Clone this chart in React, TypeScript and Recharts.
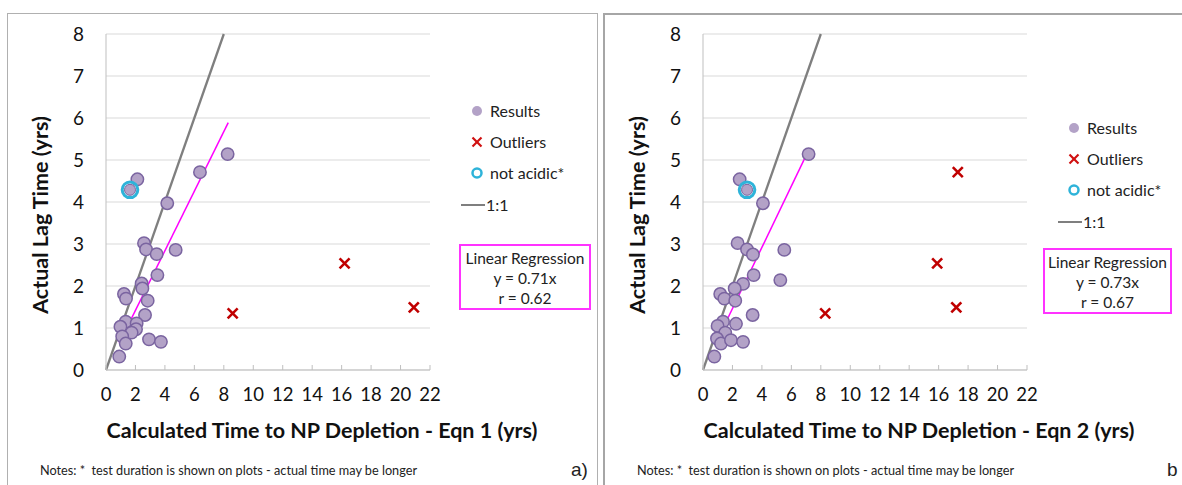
import React from "react";
import {
	CartesianGrid,
	Label,
	ReferenceLine,
	Scatter,
	ScatterChart,
	XAxis,
	YAxis,
} from "recharts";

const xTicks = [0, 2, 4, 6, 8, 10, 12, 14, 16, 18, 20, 22];
const yTicks = [0, 1, 2, 3, 4, 5, 6, 7, 8];

// panel a) - Eqn 1
const resultsA = [
	{ x: 8.26, y: 5.14 },
	{ x: 6.38, y: 4.71 },
	{ x: 2.13, y: 4.54 },
	{ x: 4.16, y: 3.97 },
	{ x: 2.58, y: 3.02 },
	{ x: 2.72, y: 2.87 },
	{ x: 3.44, y: 2.76 },
	{ x: 4.73, y: 2.86 },
	{ x: 3.49, y: 2.26 },
	{ x: 2.42, y: 2.06 },
	{ x: 2.47, y: 1.94 },
	{ x: 1.22, y: 1.81 },
	{ x: 1.36, y: 1.7 },
	{ x: 2.83, y: 1.65 },
	{ x: 2.65, y: 1.31 },
	{ x: 1.34, y: 1.15 },
	{ x: 2.08, y: 1.11 },
	{ x: 0.98, y: 1.03 },
	{ x: 2.04, y: 0.97 },
	{ x: 1.74, y: 0.89 },
	{ x: 1.1, y: 0.8 },
	{ x: 1.34, y: 0.63 },
	{ x: 2.92, y: 0.73 },
	{ x: 3.73, y: 0.67 },
	{ x: 0.9, y: 0.32 },
];
const outliersA = [
	{ x: 8.6, y: 1.35 },
	{ x: 16.2, y: 2.54 },
	{ x: 20.9, y: 1.49 },
];
const notAcidicA = [{ x: 1.63, y: 4.29 }];
const regressionA = [
	{ x: 0.9, y: 0.64 },
	{ x: 8.3, y: 5.89 },
];

// panel b) - Eqn 2
const resultsB = [
	{ x: 7.17, y: 5.14 },
	{ x: 2.49, y: 4.54 },
	{ x: 4.07, y: 3.97 },
	{ x: 2.35, y: 3.02 },
	{ x: 2.99, y: 2.87 },
	{ x: 3.39, y: 2.75 },
	{ x: 5.52, y: 2.86 },
	{ x: 3.44, y: 2.26 },
	{ x: 5.25, y: 2.14 },
	{ x: 2.72, y: 2.05 },
	{ x: 2.15, y: 1.94 },
	{ x: 1.17, y: 1.81 },
	{ x: 1.45, y: 1.7 },
	{ x: 2.19, y: 1.65 },
	{ x: 3.37, y: 1.31 },
	{ x: 1.36, y: 1.15 },
	{ x: 2.24, y: 1.1 },
	{ x: 0.99, y: 1.05 },
	{ x: 1.51, y: 0.89 },
	{ x: 0.95, y: 0.75 },
	{ x: 1.22, y: 0.63 },
	{ x: 1.9, y: 0.71 },
	{ x: 2.72, y: 0.67 },
	{ x: 0.77, y: 0.32 },
];
const outliersB = [
	{ x: 8.3, y: 1.35 },
	{ x: 15.9, y: 2.54 },
	{ x: 17.2, y: 1.49 },
	{ x: 17.3, y: 4.71 },
];
const notAcidicB = [{ x: 2.99, y: 4.29 }];
const regressionB = [
	{ x: 0.9, y: 0.66 },
	{ x: 7.1, y: 5.18 },
];

const oneToOne = [
	{ x: 0, y: 0 },
	{ x: 8, y: 8 },
];

const FONT = "Lato, 'Open Sans', sans-serif";
const DOT_FILL = "#b3a2c7";
const DOT_STROKE = "#7a64a0";
const RED = "#c00000";
const CYAN = "#2eb3d9";
const GRAY_LINE = "#7f7f7f";
const MAGENTA = "#ff00ff";

function Dot(props: any) {
	const { cx, cy } = props;
	return (
		<circle
			cx={cx}
			cy={cy}
			r={6.2}
			fill={DOT_FILL}
			stroke={DOT_STROKE}
			strokeWidth={1.5}
		/>
	);
}

function Cross(props: any) {
	const { cx, cy } = props;
	const s = 5;
	return (
		<g stroke={RED} strokeWidth={2.6}>
			<line x1={cx - s} y1={cy - s} x2={cx + s} y2={cy + s} />
			<line x1={cx - s} y1={cy + s} x2={cx + s} y2={cy - s} />
		</g>
	);
}

function Ring(props: any) {
	const { cx, cy } = props;
	return (
		<g>
			<circle cx={cx} cy={cy} r={7.8} fill="none" stroke={CYAN} strokeWidth={3} />
			<circle cx={cx} cy={cy} r={5.5} fill={DOT_FILL} stroke={DOT_STROKE} strokeWidth={1} />
		</g>
	);
}

interface PanelProps {
	width: number;
	results: { x: number; y: number }[];
	outliers: { x: number; y: number }[];
	notAcidic: { x: number; y: number }[];
	regression: { x: number; y: number }[];
	xTitle: string;
}

function LagPanel({ width, results, outliers, notAcidic, regression, xTitle }: PanelProps) {
	return (
		<ScatterChart
			width={width}
			height={485}
			margin={{ top: 34, right: width - 430, bottom: 0, left: 0 }}
			style={{ fontFamily: FONT }}
		>
			<CartesianGrid vertical={false} stroke="#d9d9d9" strokeWidth={1.2} />
			<XAxis
				type="number"
				dataKey="x"
				domain={[0, 22]}
				ticks={xTicks}
				interval={0}
				height={115}
				tickSize={-5}
				tickMargin={23}
				axisLine={{ stroke: "#bfbfbf" }}
				tickLine={{ stroke: "#bfbfbf" }}
				tick={{ fill: "#111", fontSize: 18.5 }}
			>
				<Label
					content={() => (
						<text
							x={322}
							y={430}
							textAnchor="middle"
							dominantBaseline="central"
							fontSize={21.5}
							fontWeight="bold"
							fill="#111"
						>
							{xTitle}
						</text>
					)}
				/>
			</XAxis>
			<YAxis
				type="number"
				dataKey="y"
				domain={[0, 8]}
				ticks={yTicks}
				interval={0}
				width={106}
				tickSize={0}
				tickMargin={22}
				axisLine={{ stroke: "#bfbfbf" }}
				tickLine={false}
				tick={{ fill: "#111", fontSize: 19 }}
			>
				<Label
					content={() => (
						<text
							x={40}
							y={215}
							transform="rotate(-90 40 215)"
							textAnchor="middle"
							dominantBaseline="central"
							fontSize={21.5}
							fontWeight="bold"
							fill="#111"
						>
							Actual Lag Time (yrs)
						</text>
					)}
				/>
			</YAxis>
			<Scatter data={results} shape={Dot} isAnimationActive={false} />
			<Scatter data={notAcidic} shape={Ring} isAnimationActive={false} />
			<Scatter data={outliers} shape={Cross} isAnimationActive={false} />
			<ReferenceLine segment={oneToOne} stroke={GRAY_LINE} strokeWidth={2.3} ifOverflow="visible" />
			<ReferenceLine segment={regression} stroke={MAGENTA} strokeWidth={1.5} ifOverflow="visible" />
		</ScatterChart>
	);
}

function LegendBlock({ left, top }: { left: number; top: number }) {
	const row = (y: number, marker: React.ReactNode, text: string, tx = 29) => (
		<div style={{ position: "absolute", left: 0, top: y, height: 20, width: 140 }}>
			<svg width={28} height={20} style={{ position: "absolute", left: 0, top: 0 }}>
				{marker}
			</svg>
			<span
				style={{
					position: "absolute",
					left: tx,
					top: 0,
					lineHeight: "20px",
					fontSize: 16,
					fontFamily: FONT,
					color: "#222",
					whiteSpace: "nowrap",
				}}
			>
				{text}
			</span>
		</div>
	);
	return (
		<div style={{ position: "absolute", left, top, width: 150, height: 220 }}>
			{row(0, <circle cx={17} cy={10} r={5} fill={DOT_FILL} />, "Results", 30)}
			{row(
				31,
				<g stroke="#d01010" strokeWidth={2.2}>
					<line x1={12.5} y1={5.5} x2={21.5} y2={14.5} />
					<line x1={12.5} y1={14.5} x2={21.5} y2={5.5} />
				</g>,
				"Outliers",
				30,
			)}
			{row(62, <circle cx={17} cy={10} r={4.5} fill="none" stroke={CYAN} strokeWidth={2.5} />, "not acidic*", 30)}
			{row(94, <line x1={1} y1={10} x2={25} y2={10} stroke={GRAY_LINE} strokeWidth={2} />, "1:1", 26)}
		</div>
	);
}

function RegressionBox({ left, top, width, slope, r }: { left: number; top: number; width: number; slope: string; r: string }) {
	return (
		<div
			style={{
				position: "absolute",
				left,
				top,
				width,
				height: 66,
				border: "2px solid #ff33ff",
				fontFamily: FONT,
				fontSize: 15.5,
				lineHeight: "20px",
				textAlign: "center",
				color: "#222",
				paddingTop: 2,
				boxSizing: "border-box",
				whiteSpace: "nowrap",
			}}
		>
			<div>Linear Regression</div>
			<div>y = {slope}x</div>
			<div>r = {r}</div>
		</div>
	);
}

const noteText = "Notes: *  test duration is shown on plots - actual time may be longer";

const noteStyle: React.CSSProperties = {
	position: "absolute",
	top: 462,
	fontFamily: FONT,
	fontSize: 12.7,
	color: "#222",
	whiteSpace: "pre",
};

export default function App() {
	return (
		<div
			style={{
				position: "absolute",
				left: 0,
				top: 0,
				width: 1182,
				height: 485,
				background: "#fff",
				overflow: "hidden",
			}}
		>
			<div
				style={{
					position: "absolute",
					left: 7,
					top: 13,
					width: 589,
					height: 490,
					border: "1.5px solid #b0b0b0",
				}}
			/>
			<div
				style={{
					position: "absolute",
					left: 603,
					top: 13,
					width: 620,
					height: 490,
					border: "2px solid #a6a6a6",
				}}
			/>
			<div style={{ position: "absolute", left: 0, top: 0 }}>
				<LagPanel
					width={597}
					results={resultsA}
					outliers={outliersA}
					notAcidic={notAcidicA}
					regression={regressionA}
					xTitle="Calculated Time to NP Depletion - Eqn 1 (yrs)"
				/>
			</div>
			<div style={{ position: "absolute", left: 597, top: 0 }}>
				<LagPanel
					width={585}
					results={resultsB}
					outliers={outliersB}
					notAcidic={notAcidicB}
					regression={regressionB}
					xTitle="Calculated Time to NP Depletion - Eqn 2 (yrs)"
				/>
			</div>
			<LegendBlock left={460} top={101} />
			<LegendBlock left={1057} top={118} />
			<RegressionBox left={459} top={244} width={132} slope="0.71" r="0.62" />
			<RegressionBox left={1043} top={248} width={129} slope="0.73" r="0.67" />
			<div style={{ ...noteStyle, left: 40 }}>{noteText}</div>
			<div style={{ ...noteStyle, left: 637 }}>{noteText}</div>
			<div
				style={{
					position: "absolute",
					left: 571,
					top: 459,
					fontFamily: "'Liberation Sans', Arial, sans-serif",
					fontSize: 19,
					color: "#222",
				}}
			>
				a)
			</div>
			<div
				style={{
					position: "absolute",
					left: 1167,
					top: 459,
					fontFamily: "'Liberation Sans', Arial, sans-serif",
					fontSize: 19,
					color: "#222",
				}}
			>
				b
			</div>
		</div>
	);
}
